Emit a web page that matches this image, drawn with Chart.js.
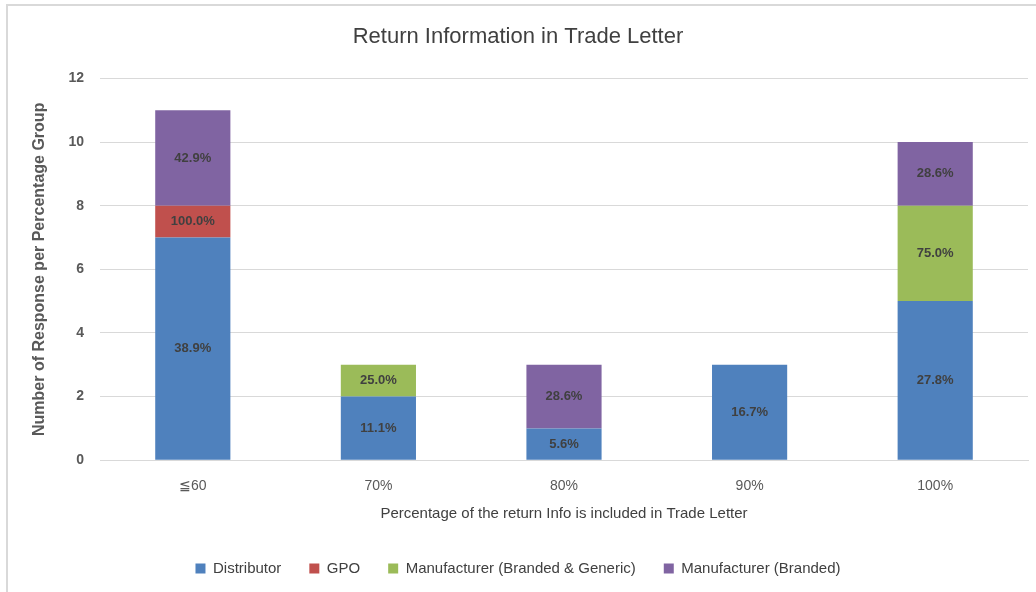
<!DOCTYPE html>
<html>
<head>
<meta charset="utf-8">
<script src="https://cdn.jsdelivr.net/npm/chart.js@4"></script>
<style>
  html, body { margin: 0; padding: 0; background: #fff; }
  #wrap { position: absolute; left: 0; top: 0; width: 1036px; height: 592px; }
  #frame { position: absolute; left: 6px; top: 4px; width: 1040px; height: 600px;
           border-left: 2px solid #d9d9d9; border-top: 2px solid #d9d9d9; }
</style>
</head>
<body>
<div id="wrap">
  <div id="frame"></div>
  <canvas id="chart" width="1036" height="592"></canvas>
</div>
<script>
// data
const categories = ["≦60", "70%", "80%", "90%", "100%"];
const distributor = [7, 2, 1, 3, 5];
const gpo = [1, 0, 0, 0, 0];
const mfrBrandedGeneric = [0, 1, 0, 0, 3];
const mfrBranded = [3, 0, 2, 0, 2];

const distributorPct = ["38.9%", "11.1%", "5.6%", "16.7%", "27.8%"];
const gpoPct = ["100.0%", "", "", "", ""];
const mfrBrandedGenericPct = ["", "25.0%", "", "", "75.0%"];
const mfrBrandedPct = ["42.9%", "", "28.6%", "", "28.6%"];

const yTicks = [0, 2, 4, 6, 8, 10, 12];

const FONT = "'Liberation Sans Narrow', 'Liberation Sans', Arial, sans-serif";

// labels in the middle of each segment
const segmentLabels = {
  id: "segmentLabels",
  afterDatasetsDraw(chart) {
    const ctx = chart.ctx;
    ctx.save();
    ctx.font = "bold 13px " + FONT;
    ctx.fillStyle = "#404040";
    ctx.textAlign = "center";
    ctx.textBaseline = "middle";
    chart.data.datasets.forEach((ds, i) => {
      const meta = chart.getDatasetMeta(i);
      meta.data.forEach((bar, j) => {
        const txt = ds.pctLabels[j];
        if (!txt || !ds.data[j]) return;
        ctx.fillText(txt, bar.x, (bar.y + bar.base) / 2);
      });
    });
    ctx.restore();
  }
};

new Chart(document.getElementById("chart"), {
  type: "bar",
  data: {
    labels: categories,
    datasets: [
      { label: "Distributor", data: distributor, pctLabels: distributorPct, backgroundColor: "#4f81bd" },
      { label: "GPO", data: gpo, pctLabels: gpoPct, backgroundColor: "#c0504d" },
      { label: "Manufacturer (Branded & Generic)", data: mfrBrandedGeneric, pctLabels: mfrBrandedGenericPct, backgroundColor: "#9bbb59" },
      { label: "Manufacturer (Branded)", data: mfrBranded, pctLabels: mfrBrandedPct, backgroundColor: "#8064a2" }
    ]
  },
  options: {
    responsive: false,
    animation: false,
    devicePixelRatio: 1,
    categoryPercentage: 1,
    barPercentage: 0.405,
    layout: { padding: { left: 8, right: 8, top: 0, bottom: 6 } },
    plugins: {
      title: {
        display: true,
        text: "Return Information in Trade Letter",
        color: "#404040",
        font: { family: FONT, size: 22, weight: "normal" },
        padding: { top: 24, bottom: 28 }
      },
      legend: {
        position: "bottom",
        labels: {
          color: "#404040",
          font: { family: FONT, size: 15 },
          boxWidth: 10,
          boxHeight: 10,
          padding: 28
        }
      },
      tooltip: { enabled: false }
    },
    scales: {
      x: {
        stacked: true,
        grid: { display: false },
        border: { color: "#d9d9d9" },
        ticks: { color: "#595959", font: { family: FONT, size: 14 }, padding: 10 },
        title: {
          display: true,
          text: "Percentage of the return Info is included in Trade Letter",
          color: "#404040",
          font: { family: FONT, size: 15 },
          padding: { top: 0, bottom: 10 }
        }
      },
      y: {
        stacked: true,
        min: 0,
        max: 12,
        afterBuildTicks(scale) {
          scale.ticks = yTicks.map(v => ({ value: v }));
        },
        afterFit(scale) { scale.width = 92; },
        grid: { color: "#d9d9d9", drawTicks: false },
        border: { display: false },
        ticks: { color: "#595959", font: { family: FONT, size: 14, weight: "bold" }, padding: 16 },
        title: {
          display: true,
          text: "Number of Response per Percentage Group",
          color: "#595959",
          font: { family: FONT, size: 16, weight: "bold" },
          padding: { top: 22, bottom: 0 }
        }
      }
    }
  },
  plugins: [segmentLabels]
});
</script>
</body>
</html>
